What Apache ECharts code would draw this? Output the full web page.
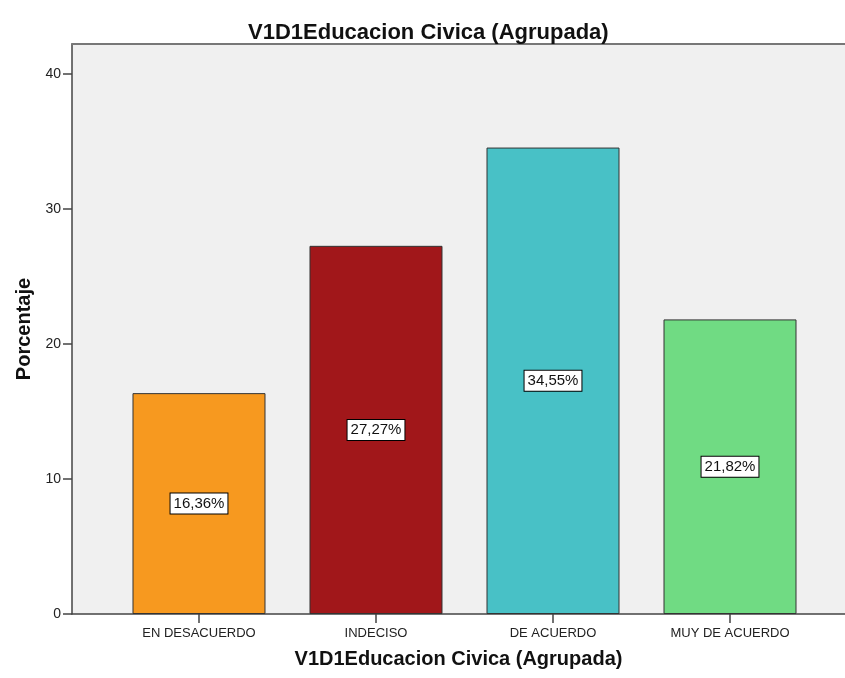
<!DOCTYPE html>
<html>
<head>
<meta charset="utf-8">
<script src="https://cdn.jsdelivr.net/npm/echarts@6/dist/echarts.min.js"></script>
<style>
  html, body { margin: 0; padding: 0; background: #fff; }
  #chart { width: 845px; height: 678px; }
</style>
</head>
<body>
<div id="chart"></div>
<script>
var categories = ['EN DESACUERDO', 'INDECISO', 'DE ACUERDO', 'MUY DE ACUERDO'];
var percents = [16.36, 27.27, 34.55, 21.82];
var barColors = ['#F7991F', '#A1171A', '#48C1C6', '#70DB83'];
var yTicks = [0, 10, 20, 30, 40];

var font = "'Liberation Sans', Arial, sans-serif";

window.onload = function () {
    var chart = echarts.init(document.getElementById('chart'));

    var barData = percents.map(function (v, i) {
        return {
            value: [i, v],
            itemStyle: { color: barColors[i] }
        };
    });

    chart.setOption({
        animation: false,
        title: {
            text: 'V1D1Educacion Civica (Agrupada)',
            left: 243,
            top: 17,
            textStyle: { fontFamily: font, fontSize: 22, fontWeight: 'bold', color: '#111' }
        },
        grid: {
            left: 72, right: 0, top: 44, bottom: 64,
            show: true, backgroundColor: '#f0f0f0', borderWidth: 0
        },
        xAxis: [{
            type: 'value',
            min: -0.7175,
            max: 3.6497,
            name: 'V1D1Educacion Civica (Agrupada)',
            nameLocation: 'middle',
            nameGap: 35,
            nameTextStyle: { fontFamily: font, fontSize: 20, fontWeight: 'bold', color: '#111' },
            splitLine: { show: false },
            axisLine: { show: true, onZero: false, lineStyle: { color: '#444', width: 1.5 } },
            axisTick: {
                show: true, length: 9, customValues: [0, 1, 2, 3],
                lineStyle: { color: '#444', width: 1.5 }
            },
            axisLabel: {
                customValues: [0, 1, 2, 3],
                margin: 13,
                fontFamily: font, fontSize: 13, color: '#222',
                formatter: function (v) { return categories[Math.round(v)]; }
            }
        }, {
            type: 'value',
            position: 'top',
            min: -0.7175,
            max: 3.6497,
            splitLine: { show: false },
            axisLine: { show: true, onZero: false, lineStyle: { color: '#777', width: 2 } },
            axisTick: { show: false },
            axisLabel: { show: false }
        }],
        yAxis: {
            type: 'value',
            min: 0,
            max: 42.22,
            name: 'Porcentaje',
            nameLocation: 'middle',
            nameGap: 37,
            nameTextStyle: { fontFamily: font, fontSize: 20, fontWeight: 'bold', color: '#111' },
            splitLine: { show: false },
            axisLine: { show: true, onZero: false, lineStyle: { color: '#444', width: 1.5 } },
            axisTick: {
                show: true, length: 9, customValues: yTicks,
                lineStyle: { color: '#444', width: 1.5 }
            },
            axisLabel: {
                customValues: yTicks,
                margin: 11,
                fontFamily: font, fontSize: 14, color: '#222'
            }
        },
        series: [{
            type: 'bar',
            xAxisIndex: 0,
            barWidth: 133,
            data: barData,
            itemStyle: { borderColor: '#333', borderWidth: 1 },
            label: {
                show: true,
                position: 'inside',
                fontFamily: font,
                fontSize: 15,
                color: '#111',
                backgroundColor: '#fff',
                borderColor: '#000',
                borderWidth: 1,
                padding: [3, 3, 2, 3],
                formatter: function (p) {
                    return p.value[1].toFixed(2).replace('.', ',') + '%';
                }
            }
        }]
    });
};
</script>
</body>
</html>
